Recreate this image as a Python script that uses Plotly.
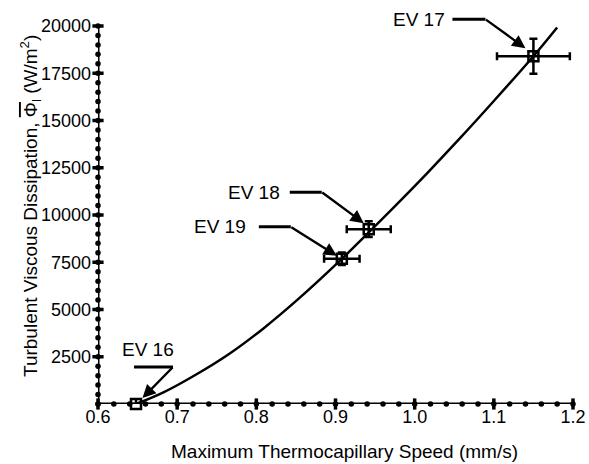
import plotly.graph_objects as go

# ---------------- data ----------------
events = ["EV 16", "EV 19", "EV 18", "EV 17"]
speed = [0.648, 0.908, 0.942, 1.150]          # mm/s
dissipation = [0, 7680, 9250, 18400]          # W/m^2
speed_err = [0.0, 0.0224, 0.0278, 0.046]
diss_err = [0, 330, 420, 925]

curve_x = [0.648, 0.682, 0.724, 0.766, 0.809, 0.851, 0.908, 0.942,
           0.973, 1.015, 1.057, 1.100, 1.150, 1.180]
curve_y = [0, 600, 1560, 2660, 4000, 5480, 7680, 9080,
           10380, 12180, 14050, 16030, 18400, 19920]

X_RANGE = [0.6, 1.2]
Y_RANGE = [0, 20000]
x_major = [0.6, 0.7, 0.8, 0.9, 1.0, 1.1, 1.2]
x_labels = ["0.6", "0.7", "0.8", "0.9", "1.0", "1.1", "1.2"]
x_minor = [round(0.6 + 0.02 * i, 2) for i in range(31)]
y_major = [2500, 5000, 7500, 10000, 12500, 15000, 17500, 20000]
y_labels = [str(v) for v in y_major]
y_minor = [500 * i for i in range(41)]

# label geometry (pixel offsets relative to each point, +y = down)
# (text_dx, text_dy, text_anchor, hline_x0, hline_x1, hline_dy, tip_dx, tip_dy, tail_dx, tail_dy)
label_geom = {
    "EV 16": (12, -55, "center", -2, 37, -37, 6.5, -6, 37, -37),
    "EV 19": (-94, -32, "right", -83, -51, -32, -5, -3, -51, -32),
    "EV 18": (-87, -37, "right", -79, -47, -37, -5, -6, -47, -37),
    "EV 17": (-86, -37, "right", -81, -48, -37, -8, -8, -48, -37),
}

FONT = "Liberation Sans, Arial, Helvetica, sans-serif"


def to_paper_x(v):
    return (v - X_RANGE[0]) / (X_RANGE[1] - X_RANGE[0])


def to_paper_y(v):
    return (v - Y_RANGE[0]) / (Y_RANGE[1] - Y_RANGE[0])


fig = go.Figure()

# axis lines
fig.add_trace(go.Scatter(
    x=X_RANGE, y=[Y_RANGE[0], Y_RANGE[0]], mode="lines",
    line=dict(color="black", width=3), hoverinfo="skip",
    showlegend=False, cliponaxis=False))
fig.add_trace(go.Scatter(
    x=[X_RANGE[0], X_RANGE[0]], y=Y_RANGE, mode="lines",
    line=dict(color="black", width=3), hoverinfo="skip",
    showlegend=False, cliponaxis=False))

# axis minor dots and major ticks
fig.add_trace(go.Scatter(
    x=x_minor, y=[Y_RANGE[0]] * len(x_minor), mode="markers",
    marker=dict(symbol="circle", size=5.5, color="black"),
    hoverinfo="skip", showlegend=False, cliponaxis=False))
fig.add_trace(go.Scatter(
    x=[X_RANGE[0]] * len(y_minor), y=y_minor, mode="markers",
    marker=dict(symbol="circle", size=5.5, color="black"),
    hoverinfo="skip", showlegend=False, cliponaxis=False))
fig.add_trace(go.Scatter(
    x=x_major, y=[Y_RANGE[0]] * len(x_major), mode="markers",
    marker=dict(symbol="line-ns", size=8, color="black", line=dict(color="black", width=3.5)),
    hoverinfo="skip", showlegend=False, cliponaxis=False))
fig.add_trace(go.Scatter(
    x=[X_RANGE[0]] * len(y_major), y=y_major, mode="markers",
    marker=dict(symbol="line-ew", size=8, color="black", line=dict(color="black", width=3.5)),
    hoverinfo="skip", showlegend=False, cliponaxis=False))

# fitted curve
fig.add_trace(go.Scatter(
    x=curve_x, y=curve_y, mode="lines",
    line=dict(color="black", width=2.5, shape="spline", smoothing=1.0),
    hoverinfo="skip", showlegend=False, cliponaxis=False))

# data points with error bars
fig.add_trace(go.Scatter(
    x=speed, y=dissipation, mode="markers",
    marker=dict(symbol="square-open", size=10, color="black",
                line=dict(color="black", width=2.5)),
    error_x=dict(type="data", array=speed_err, color="black", thickness=2.5, width=4),
    error_y=dict(type="data", array=diss_err, color="black", thickness=2.5, width=4),
    hoverinfo="skip", showlegend=False, cliponaxis=False))

annotations = []
shapes = []

for name, xv, yv in zip(events, speed, dissipation):
    tdx, tdy, tanc, h0, h1, hdy, tipdx, tipdy, taildx, taildy = label_geom[name]
    annotations.append(dict(
        x=xv, y=yv, xref="x", yref="y", text=name, showarrow=False,
        xanchor=tanc, yanchor="middle", xshift=tdx, yshift=-tdy,
        font=dict(family=FONT, size=19, color="black")))
    annotations.append(dict(
        x=xv, y=yv, xref="x", yref="y", text=" ", showarrow=True,
        font=dict(size=1), borderpad=0, standoff=0, startstandoff=0,
        xshift=tipdx, yshift=-tipdy, ax=taildx - tipdx, ay=taildy - tipdy,
        arrowhead=2, arrowsize=1.1, arrowwidth=2.4, arrowcolor="black"))
    shapes.append(dict(
        type="line", xref="paper", yref="paper", xsizemode="pixel", ysizemode="pixel",
        xanchor=to_paper_x(xv), yanchor=to_paper_y(yv), x0=h0, x1=h1, y0=-hdy, y1=-hdy,
        line=dict(color="black", width=3)))

# axis titles
annotations.append(dict(
    x=0.5, y=0, xref="paper", yref="paper", xshift=9, yshift=-47,
    text="Maximum Thermocapillary Speed (mm/s)", showarrow=False,
    xanchor="center", yanchor="middle",
    font=dict(family=FONT, size=19, color="black")))
annotations.append(dict(
    x=0, y=0.5, xref="paper", yref="paper", xshift=-68, yshift=9,
    text="Turbulent Viscous Dissipation, <span style=\"text-decoration:overline\">\u03a6</span><sub>l</sub> (W/m<sup>2</sup>)",
    textangle=-90, showarrow=False, xanchor="center", yanchor="middle",
    font=dict(family=FONT, size=19, color="black")))

fig.update_layout(
    width=589, height=464,
    margin=dict(l=98, r=16, t=26, b=60, autoexpand=False),
    paper_bgcolor="white", plot_bgcolor="white",
    font=dict(family=FONT, size=18, color="black"),
    showlegend=False,
    annotations=annotations, shapes=shapes,
    xaxis=dict(range=X_RANGE, showgrid=False, zeroline=False,
               showline=False,
               tickmode="array", tickvals=x_major, ticktext=x_labels,
               ticks="", ticklabelstandoff=0,
               tickfont=dict(family=FONT, size=18, color="black")),
    yaxis=dict(range=Y_RANGE, showgrid=False, zeroline=False,
               showline=False,
               tickmode="array", tickvals=y_major, ticktext=y_labels,
               ticks="", ticklabelstandoff=6,
               tickfont=dict(family=FONT, size=18, color="black")),
)

fig.write_html("out.html")
